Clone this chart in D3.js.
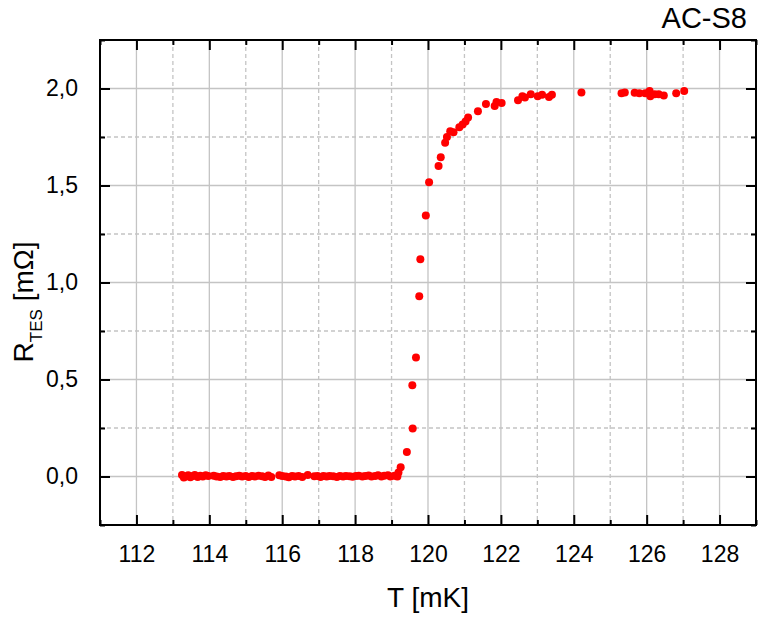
<!DOCTYPE html>
<html>
<head>
<meta charset="utf-8">
<script src="https://cdn.jsdelivr.net/npm/d3@7"></script>
<style>
  body { margin: 0; background: #fff; }
  text { font-family: "Liberation Sans", Arial, sans-serif; }
</style>
</head>
<body>
<div class="chartVis"></div>
<script>
// data: T [mK] and R_TES [mOhm]
var tempData = [113.25, 113.3, 113.35, 113.42, 113.48, 113.55, 113.6, 113.68, 113.75, 113.82, 113.9, 113.97,
  114.12, 114.2, 114.3, 114.38, 114.47, 114.55, 114.65, 114.73, 114.82, 114.9, 115.0, 115.08, 115.17, 115.25,
  115.35, 115.45, 115.53, 115.62, 115.7,
  115.92, 116.0, 116.1, 116.18, 116.27, 116.35, 116.45, 116.55, 116.7,
  116.88, 116.97, 117.05, 117.13, 117.22, 117.3, 117.4, 117.5, 117.58, 117.67, 117.75, 117.85, 117.93, 118.02,
  118.1, 118.2, 118.28, 118.37, 118.45, 118.55, 118.63, 118.72, 118.8, 118.9, 118.97, 119.08, 119.16,
  119.19, 119.25, 119.42, 119.58, 119.57, 119.67, 119.76, 119.79, 119.94, 120.03,
  120.29, 120.35, 120.47, 120.52, 120.61, 120.70, 120.86, 120.95, 121.03, 121.10, 121.37, 121.59, 121.83, 121.88,
  122.02, 122.47, 122.59, 122.66, 122.82, 123.01, 123.13, 123.32, 123.40,
  124.21, 125.31, 125.40, 125.67, 125.80, 125.96, 126.08, 126.10, 126.22, 126.33, 126.47, 126.81, 127.03];
var resData = [0.008, -0.005, 0.0, 0.006, -0.004, 0.003, 0.008, -0.002, 0.004, 0.0, 0.006, 0.002,
  0.004, 0.0, -0.002, 0.003, 0.0, 0.002, -0.003, 0.001, 0.004, 0.0, 0.002, -0.002, 0.003, 0.0,
  0.004, 0.001, -0.003, 0.005, -0.002,
  0.006, 0.002, 0.0, -0.004, 0.003, 0.0, 0.002, -0.002, 0.008,
  0.001, 0.003, -0.002, 0.002, 0.0, 0.003, 0.001, -0.002, 0.002, 0.0, 0.003, 0.001, -0.001, 0.002,
  0.004, 0.0, 0.002, 0.005, 0.0, 0.003, 0.006, 0.0, 0.004, 0.007, 0.0, 0.004, 0.0,
  0.02, 0.048, 0.126, 0.248, 0.470, 0.614, 0.929, 1.12, 1.345, 1.517,
  1.60, 1.646, 1.72, 1.75, 1.78, 1.775, 1.80, 1.815, 1.83, 1.85, 1.883, 1.92, 1.91, 1.93,
  1.925, 1.94, 1.96, 1.953, 1.97, 1.96, 1.968, 1.956, 1.968,
  1.98, 1.975, 1.98, 1.978, 1.975, 1.975, 1.987, 1.96, 1.97, 1.97, 1.964, 1.975, 1.987];

var xMajor = [112, 114, 116, 118, 120, 122, 124, 126, 128];
var xMinor = [111, 113, 115, 117, 119, 121, 123, 125, 127, 129];
var yMajor = [0, 0.5, 1.0, 1.5, 2.0];
var yMinor = [-0.25, 0.25, 0.75, 1.25, 1.75, 2.25];

var points = [];
for (var i in tempData) {
  points.push({t: tempData[i], r: resData[i]});
}

var W = 770, H = 623;
var pL = 100, pR = 756, pT = 40, pB = 525;

var x = d3.scaleLinear().domain([111, 129]).range([pL, pR]);
var y = d3.scaleLinear().domain([-0.25, 2.25]).range([pB, pT]);

var fmt = d3.formatLocale({decimal: ",", thousands: ".", grouping: [3], currency: ["", ""]}).format(".1f");

var svg = d3.select(".chartVis")
  .append("svg")
  .attr("width", W)
  .attr("height", H);

// grid
var grid = svg.append("g");
grid.selectAll(".gxMaj").data(xMajor).enter().append("line")
  .attr("x1", function (d) { return x(d); }).attr("x2", function (d) { return x(d); })
  .attr("y1", pT).attr("y2", pB)
  .attr("stroke", "#c4c4c4").attr("stroke-width", 1.3);
grid.selectAll(".gxMin").data(xMinor).enter().append("line")
  .attr("x1", function (d) { return x(d); }).attr("x2", function (d) { return x(d); })
  .attr("y1", pT).attr("y2", pB)
  .attr("stroke", "#c4c4c4").attr("stroke-width", 1.3).attr("stroke-dasharray", "4 3");
grid.selectAll(".gyMaj").data(yMajor).enter().append("line")
  .attr("y1", function (d) { return y(d); }).attr("y2", function (d) { return y(d); })
  .attr("x1", pL).attr("x2", pR)
  .attr("stroke", "#c4c4c4").attr("stroke-width", 1.3);
grid.selectAll(".gyMin").data(yMinor).enter().append("line")
  .attr("y1", function (d) { return y(d); }).attr("y2", function (d) { return y(d); })
  .attr("x1", pL).attr("x2", pR)
  .attr("stroke", "#c4c4c4").attr("stroke-width", 1.3).attr("stroke-dasharray", "4 3");

// data points
svg.append("g").selectAll(".dot")
  .data(points)
  .enter().append("circle")
  .attr("class", "dot")
  .attr("cx", function (d) { return x(d.t); })
  .attr("cy", function (d) { return y(d.r); })
  .attr("r", 4)
  .attr("fill", "#ff0000");

// axes, ticks pointing inwards
function styleAxis(g) {
  g.selectAll(".domain").remove();
  g.selectAll(".tick line").attr("stroke", "#000").attr("stroke-width", 2);
  g.selectAll("text").attr("fill", "#000").style("font-size", "23px")
    .style("font-family", "'Liberation Sans', Arial, sans-serif");
}

svg.append("g").attr("transform", "translate(0," + pB + ")")
  .call(d3.axisBottom(x).tickValues(xMajor).tickSizeInner(-10).tickSizeOuter(0).tickPadding(21).tickFormat(d3.format("d")))
  .call(styleAxis);
svg.append("g").attr("transform", "translate(0," + pB + ")")
  .call(d3.axisBottom(x).tickValues(xMinor).tickSizeInner(-5).tickSizeOuter(0).tickFormat(""))
  .call(styleAxis);
svg.append("g").attr("transform", "translate(0," + pT + ")")
  .call(d3.axisTop(x).tickValues(xMajor).tickSizeInner(-10).tickSizeOuter(0).tickFormat(""))
  .call(styleAxis);
svg.append("g").attr("transform", "translate(0," + pT + ")")
  .call(d3.axisTop(x).tickValues(xMinor).tickSizeInner(-5).tickSizeOuter(0).tickFormat(""))
  .call(styleAxis);

svg.append("g").attr("transform", "translate(" + pL + ",0)")
  .call(d3.axisLeft(y).tickValues(yMajor).tickSizeInner(-10).tickSizeOuter(0).tickPadding(22).tickFormat(fmt))
  .call(styleAxis);
svg.append("g").attr("transform", "translate(" + pL + ",0)")
  .call(d3.axisLeft(y).tickValues(yMinor).tickSizeInner(-5).tickSizeOuter(0).tickFormat(""))
  .call(styleAxis);
svg.append("g").attr("transform", "translate(" + pR + ",0)")
  .call(d3.axisRight(y).tickValues(yMajor).tickSizeInner(-10).tickSizeOuter(0).tickFormat(""))
  .call(styleAxis);
svg.append("g").attr("transform", "translate(" + pR + ",0)")
  .call(d3.axisRight(y).tickValues(yMinor).tickSizeInner(-5).tickSizeOuter(0).tickFormat(""))
  .call(styleAxis);

// frame
svg.append("rect")
  .attr("x", pL).attr("y", pT)
  .attr("width", pR - pL).attr("height", pB - pT)
  .attr("fill", "none").attr("stroke", "#000").attr("stroke-width", 2);

// labels
svg.append("text")
  .attr("x", (pL + pR) / 2).attr("y", 607)
  .attr("text-anchor", "middle")
  .style("font-size", "28px")
  .text("T [mK]");

var yl = svg.append("text")
  .attr("transform", "translate(33,302) rotate(-90)")
  .attr("text-anchor", "middle")
  .style("font-size", "28px");
yl.append("tspan").text("R");
yl.append("tspan").attr("dy", 9).style("font-size", "17px").text("TES");
yl.append("tspan").attr("dy", -9).text(" [mΩ]");

svg.append("text")
  .attr("x", 747).attr("y", 28)
  .attr("text-anchor", "end")
  .style("font-size", "29px")
  .text("AC-S8");
</script>
</body>
</html>
